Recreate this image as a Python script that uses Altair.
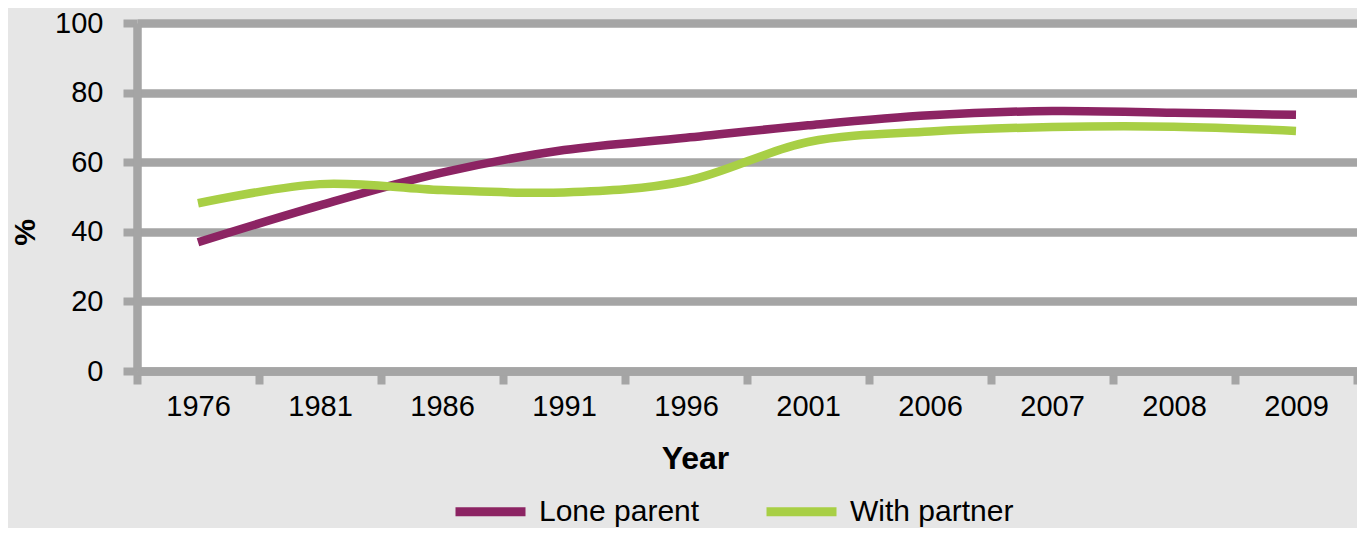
import altair as alt
import pandas as pd

years = ["1976", "1981", "1986", "1991", "1996", "2001", "2006", "2007", "2008", "2009"]
lone_parent = [37.0, 47.6, 57.0, 63.5, 67.0, 70.6, 73.5, 74.7, 74.2, 73.6]
with_partner = [48.2, 53.7, 52.0, 51.3, 54.6, 65.8, 68.8, 70.1, 70.2, 69.0]
series_names = ["Lone parent", "With partner"]
series_colors = ["#8c2463", "#a8cf45"]
y_ticks = [0, 20, 40, 60, 80, 100]

rows = []
for yr, a, b in zip(years, lone_parent, with_partner):
    rows.append({"Year": yr, "Series": series_names[0], "Value": a})
    rows.append({"Year": yr, "Series": series_names[1], "Value": b})
df = pd.DataFrame(rows)

FONT = "Liberation Sans"
GRID = "#a5a5a5"

chart = alt.Chart(df).mark_line(
    strokeWidth=8.5, interpolate="catmull-rom", strokeCap="butt"
).encode(
    x=alt.X(
        "Year:N",
        sort=years,
        scale=alt.Scale(type="band", paddingInner=0, paddingOuter=0),
        axis=alt.Axis(
            title="Year",
            labelAngle=0,
            labelFont=FONT,
            labelFontSize=29,
            labelColor="black",
            labelPadding=8,
            tickBand="extent",
            tickSize=13,
            tickWidth=8,
            tickColor=GRID,
            domainColor=GRID,
            domainWidth=8.5,
            grid=False,
            titleFont=FONT,
            titleFontSize=32,
            titleFontWeight="bold",
            titleColor="black",
            titleX=558,
            titleY=87,
            titleBaseline="middle",
            titleAlign="center",
        ),
    ),
    y=alt.Y(
        "Value:Q",
        scale=alt.Scale(domain=[0, 100], nice=False),
        axis=alt.Axis(
            title="%",
            values=y_ticks,
            labelFont=FONT,
            labelFontSize=29,
            labelColor="black",
            labelPadding=20,
            tickSize=14,
            tickWidth=8,
            tickColor=GRID,
            domainColor=GRID,
            domainWidth=8.5,
            grid=True,
            gridColor=GRID,
            gridWidth=8.5,
            titleFont=FONT,
            titleFontSize=30,
            titleFontWeight="bold",
            titleColor="black",
            titleAngle=270,
            titleX=-112,
            titleY=209,
            titleBaseline="middle",
            titleAlign="center",
        ),
    ),
    color=alt.Color(
        "Series:N",
        scale=alt.Scale(domain=series_names, range=series_colors),
        legend=alt.Legend(
            title=None,
            orient="none",
            direction="horizontal",
            legendX=314,
            legendY=449,
            symbolType="stroke",
            symbolSize=4900,
            symbolStrokeWidth=9,
            labelFont=FONT,
            labelFontSize=30,
            labelColor="black",
            labelOffset=9,
            labelLimit=0,
            columnPadding=48,
            padding=0,
        ),
    ),
).properties(
    width=1220,
    height=348,
    background="#e6e6e6",
    padding={"left": 129, "top": 15, "right": 0, "bottom": 157},
    autosize=alt.AutoSizeParams(type="none"),
).configure_view(
    fill="white", stroke="#d4d4d4", strokeWidth=1
)

chart.save("out.html", embed_options={"renderer": "svg", "actions": False})
